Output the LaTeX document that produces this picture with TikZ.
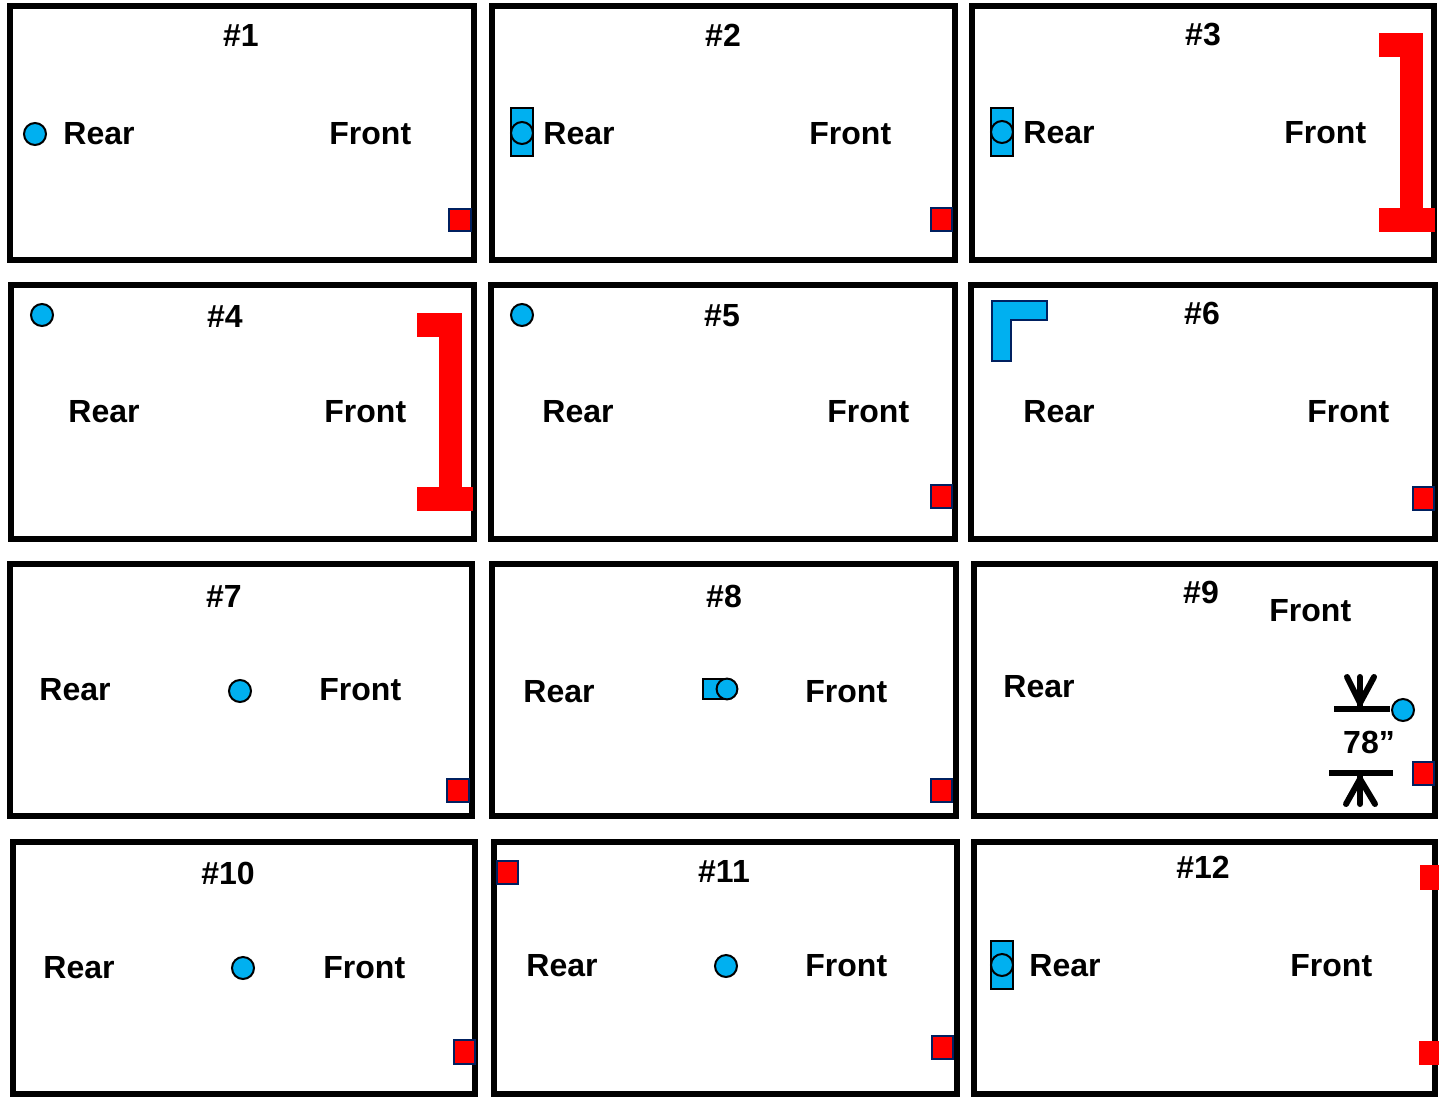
\documentclass[tikz,border=0pt]{standalone}
\usepackage{fontspec}
\setmainfont{Liberation Sans}
\definecolor{cy}{RGB}{0,176,240}
\definecolor{nv}{RGB}{0,32,96}
\begin{document}
\begin{tikzpicture}[x=0.5pt,y=-0.5pt,
 panel/.style={draw=black,line width=2.75pt},
 lbl/.style={font=\bfseries\fontsize{16}{16}\selectfont,inner sep=0pt,anchor=west,yshift=-0.5pt},
 ttl/.style={font=\bfseries\fontsize{16}{16}\selectfont,inner sep=0pt,yshift=-0.5pt},
 sq/.style={fill=red,draw=nv,line width=0.8pt},
 dot/.style={fill=cy,draw=black,line width=1pt},
 blk/.style={fill=cy,draw=black,line width=0.8pt},
 brk/.style={fill=red},
 dimv/.style={line width=3pt,line cap=round,line join=round},
 dimh/.style={line width=2.6pt}]
\useasboundingbox[fill=white] (0,0) rectangle (1439,1098);
% panels
\draw[panel] (10,6) rectangle (474,260);
\draw[panel] (492,6) rectangle (955,260);
\draw[panel] (972,6) rectangle (1434,260);
\draw[panel] (11,285) rectangle (474,539);
\draw[panel] (491,285) rectangle (955,539);
\draw[panel] (971,285) rectangle (1435,539);
\draw[panel] (10,564) rectangle (472,816);
\draw[panel] (492,564) rectangle (956,816);
\draw[panel] (974,564) rectangle (1435,816);
\draw[panel] (13,842) rectangle (475,1094);
\draw[panel] (494,842) rectangle (957,1094);
\draw[panel] (974,842) rectangle (1435,1094);
% titles
\node[ttl] (t1) at (241,34) {\#1};
\node[ttl] (t2) at (723,34) {\#2};
\node[ttl] (t3) at (1203,34) {\#3};
\node[ttl] (t4) at (225,315) {\#4};
\node[ttl] (t5) at (722,315) {\#5};
\node[ttl] (t6) at (1202,312) {\#6};
\node[ttl] (t7) at (224,595) {\#7};
\node[ttl] (t8) at (724,595) {\#8};
\node[ttl] (t9) at (1201,591) {\#9};
\node[ttl] (t10) at (228,872) {\#10};
\node[ttl] (t11) at (724,870) {\#11};
\node[ttl] (t12) at (1203,866) {\#12};
% Rear labels
\node[lbl] (r1) at (63,133) {Rear};
\node[lbl] (r2) at (543,133) {Rear};
\node[lbl] (r3) at (1023,132) {Rear};
\node[lbl] (r4) at (68,411) {Rear};
\node[lbl] (r5) at (542,411) {Rear};
\node[lbl] (r6) at (1023,411) {Rear};
\node[lbl] (r7) at (39,689) {Rear};
\node[lbl] (r8) at (523,691) {Rear};
\node[lbl] (r9) at (1003,686) {Rear};
\node[lbl] (r10) at (43,967) {Rear};
\node[lbl] (r11) at (526,965) {Rear};
\node[lbl] (r12) at (1029,965) {Rear};
% Front labels
\node[lbl] (f1) at (329,133) {Front};
\node[lbl] (f2) at (809,133) {Front};
\node[lbl] (f3) at (1284,132) {Front};
\node[lbl] (f4) at (324,411) {Front};
\node[lbl] (f5) at (827,411) {Front};
\node[lbl] (f6) at (1307,411) {Front};
\node[lbl] (f7) at (319,689) {Front};
\node[lbl] (f8) at (805,691) {Front};
\node[lbl] (f9) at (1269,610) {Front};
\node[lbl] (f10) at (323,967) {Front};
\node[lbl] (f11) at (805,965) {Front};
\node[lbl] (f12) at (1290,965) {Front};
% blue markers
\draw[dot] (35,134) circle[radius=5.5pt];
\draw[blk] (511,108) rectangle (533,156);
\draw[dot] (522,133) circle[radius=5.5pt];
\draw[blk] (991,108) rectangle (1013,156);
\draw[dot] (1002,132) circle[radius=5.5pt];
\draw[dot] (42,315) circle[radius=5.5pt];
\draw[dot] (522,315) circle[radius=5.5pt];
\draw[fill=cy,draw=nv,line width=1.2pt] (992,301) -- (1047,301) -- (1047,320) -- (1011,320) -- (1011,361) -- (992,361) -- cycle;
\draw[dot] (240,691) circle[radius=5.5pt];
\draw[blk] (703,679) rectangle (724,699);
\draw[dot] (727,689) circle[radius=5.2pt];
\draw[dot] (1403,710) circle[radius=5.5pt];
\draw[dot] (243,968) circle[radius=5.5pt];
\draw[dot] (726,966) circle[radius=5.5pt];
\draw[blk] (991,941) rectangle (1013,989);
\draw[dot] (1002,965) circle[radius=5.5pt];
% red squares
\draw[sq] (449,209) rectangle (471,231);
\draw[sq] (931,208) rectangle (952,231);
\draw[sq] (931,485) rectangle (952,508);
\draw[sq] (1413,487) rectangle (1434,510);
\draw[sq] (447,779) rectangle (469,802);
\draw[sq] (931,779) rectangle (952,802);
\draw[sq] (1413,762) rectangle (1434,785);
\draw[sq] (454,1040) rectangle (475,1064);
\draw[sq] (497,861) rectangle (518,884);
\draw[sq] (932,1036) rectangle (953,1059);
\fill[red] (1420,865) rectangle (1439,890);
\fill[red] (1419,1041) rectangle (1439,1065);
% red brackets
\fill[brk] (1379,33) rectangle (1423,57);
\fill[brk] (1400,33) rectangle (1423,232);
\fill[brk] (1379,208) rectangle (1435,232);
\fill[brk] (417,313) rectangle (462,337);
\fill[brk] (439,313) rectangle (462,511);
\fill[brk] (417,487) rectangle (473,511);
% dimension 78"
\coordinate (d1a) at (1334,709);
\coordinate (d1b) at (1390,709);
\coordinate (d2a) at (1329,773);
\coordinate (d2b) at (1393,773);
\draw[dimh] (d1a) -- (d1b);
\draw[dimh] (d2a) -- (d2b);
\draw[dimv] (1360,677) -- (1360,706);
\draw[dimv] (1347,677) -- (1360,703) -- (1374,677);
\draw[dimv] (1360,776) -- (1360,804);
\draw[dimv] (1346,804) -- (1360,779) -- (1375,804);
\node[ttl] (m) at (1369,741) {78”};
\end{tikzpicture}
\end{document}
